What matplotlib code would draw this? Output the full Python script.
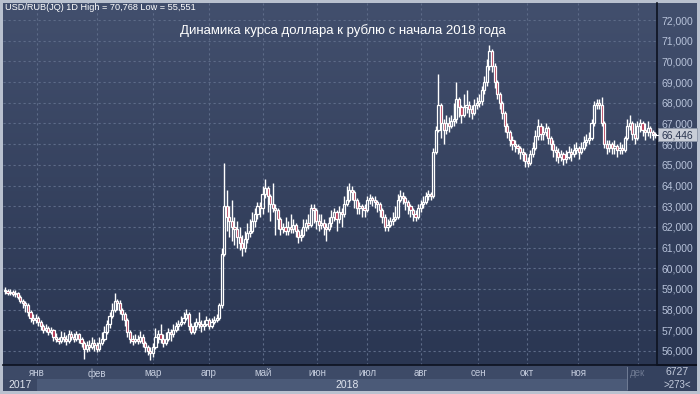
import matplotlib
matplotlib.use("Agg")
import matplotlib.pyplot as plt
from matplotlib.patches import Rectangle
import numpy as np

plt.rcParams['font.family'] = ['Liberation Sans', 'DejaVu Sans']

# Daily USD/RUB candles (index 0 = mid Dec 2017)
first_open = 58.95
closes = [
    58.9, 58.8, 58.85, 58.75, 58.8, 58.6, 58.4, 58.3, 58.2, 57.9,
    57.6, 57.5, 57.6, 57.4, 57.2, 57.0, 57.1, 56.9, 57.0, 56.7,
    56.6, 56.5, 56.7, 56.6, 56.5, 56.8, 56.7, 56.6, 56.8, 56.6,
    56.4, 56.1, 56.3, 56.2, 56.4, 56.3, 56.1, 56.4, 56.6, 56.9,
    57.3, 57.7, 58.0, 58.4, 58.3, 58.0, 57.8, 57.5, 56.9, 56.6,
    56.5, 56.6, 56.5, 56.7, 56.4, 56.2, 56.0, 55.9, 56.2, 56.7,
    56.8, 56.6, 56.4, 56.6, 56.9, 56.8, 57.0, 57.2, 57.3, 57.4,
    57.6, 57.8, 57.2, 56.9, 57.2, 57.4, 57.3, 57.2, 57.3, 57.5,
    57.2, 57.4, 57.5, 57.6, 58.2, 60.7, 63.0, 62.5, 62.3, 62.0,
    61.9, 61.5, 61.2, 61.0, 61.4, 61.7, 61.8, 62.3, 62.6, 63.0,
    62.9, 63.6, 63.9, 63.5, 63.1, 62.9, 62.8, 62.4, 61.9, 62.0,
    61.8, 62.0, 61.9, 62.1, 61.8, 61.5, 61.6, 62.0, 62.2, 62.1,
    62.9, 62.8, 62.3, 62.1, 62.2, 62.0, 61.9, 62.2, 62.5, 62.7,
    62.4, 62.7, 62.6, 63.1, 63.3, 63.8, 63.7, 63.3, 62.9, 63.0,
    62.9, 62.8, 63.3, 63.4, 63.3, 63.2, 63.1, 62.8, 62.5, 62.0,
    62.1, 62.3, 62.4, 62.5, 63.3, 63.5, 63.4, 63.2, 63.0, 62.8,
    62.6, 62.5, 62.9, 63.1, 63.2, 63.5, 63.6, 63.5, 65.6, 66.7,
    67.9, 67.0, 66.7, 67.0, 66.9, 67.1, 67.2, 68.2, 67.8, 67.4,
    67.8, 67.9, 67.7, 67.5, 67.9, 68.0, 68.1, 68.6, 69.0, 69.8,
    70.5, 69.8, 69.0, 68.4, 68.0, 67.5, 66.9, 66.6, 66.2, 66.0,
    65.9, 65.8, 65.6, 65.5, 65.2, 65.1, 65.5, 65.8, 66.4, 66.9,
    66.5, 66.6, 66.8, 66.3, 66.0, 65.7, 65.6, 65.4, 65.5, 65.3,
    65.4, 65.6, 65.5, 65.7, 65.8, 65.6, 65.8, 66.1, 66.2, 66.3,
    67.0, 67.9, 68.0, 67.9, 67.0, 66.0, 65.8, 66.0, 65.8, 65.9,
    65.7, 65.8, 65.7, 66.3, 66.9, 67.0, 66.5, 66.3, 66.9, 67.0,
    66.7, 66.6, 66.8, 66.6, 66.5, 66.446,
]
highs = [
    59.1, 59.0, 59.0, 58.95, 58.95, 58.85, 58.7, 58.5, 58.4, 58.3,
    58.0, 57.8, 57.8, 57.7, 57.5, 57.3, 57.3, 57.2, 57.15, 57.05,
    56.85, 56.7, 56.95, 56.9, 56.75, 57.0, 56.95, 56.85, 56.95, 56.85,
    56.7, 56.5, 56.5, 56.55, 56.7, 56.6, 56.45, 56.7, 56.9, 57.2,
    57.5, 57.9, 58.3, 58.8, 58.5, 58.45, 58.1, 57.9, 57.6, 57.0,
    56.75, 56.8, 56.75, 56.95, 56.8, 56.5, 56.3, 56.2, 56.4, 57.1,
    57.0, 57.3, 56.8, 56.9, 57.1, 57.05, 57.3, 57.4, 57.5, 57.7,
    57.9, 58.05, 57.9, 57.35, 57.4, 57.6, 57.9, 57.5, 57.5, 57.7,
    57.6, 57.6, 57.7, 57.8, 58.3, 61.0, 65.1, 63.8, 63.0, 63.3,
    62.5, 62.3, 62.0, 61.6, 61.8, 62.2, 62.4, 62.7, 62.9, 63.2,
    63.2, 64.0, 64.3, 64.0, 63.6, 64.1, 63.1, 62.9, 62.5, 62.2,
    62.5, 62.3, 62.6, 62.4, 62.2, 61.9, 61.9, 62.4, 62.4, 62.6,
    63.1, 63.1, 62.9, 62.6, 62.6, 62.4, 62.2, 62.5, 62.8, 62.9,
    62.8, 63.0, 62.9, 63.5, 64.0, 64.1, 64.0, 63.8, 63.4, 63.2,
    63.1, 63.1, 63.5, 63.6, 63.5, 63.5, 63.3, 63.2, 62.9, 62.6,
    62.4, 62.5, 62.7, 63.0, 63.6, 63.8, 63.7, 63.5, 63.3, 63.1,
    62.9, 62.8, 63.1, 63.3, 63.5, 63.7, 63.8, 63.7, 65.8, 66.9,
    69.4, 68.0, 67.2, 67.4, 67.3, 67.4, 68.0, 69.0, 68.3, 67.9,
    68.4, 68.6, 68.1, 67.9, 68.2, 68.3, 68.4, 68.8, 69.3, 70.1,
    70.768, 70.6, 69.9, 69.1, 68.5, 68.1, 67.6, 67.0, 66.7, 66.4,
    66.2, 66.0, 65.9, 65.8, 65.6, 65.4, 65.7, 66.1, 66.7, 67.2,
    67.0, 66.9, 67.0, 66.9, 66.4, 66.2, 65.9, 65.8, 65.7, 65.6,
    65.7, 65.9, 65.8, 66.0, 66.1, 65.9, 66.1, 66.4, 66.5, 66.6,
    67.2, 68.1, 68.2, 68.2, 68.3, 67.1, 66.2, 66.2, 66.1, 66.2,
    66.0, 66.1, 66.0, 66.4, 67.2, 67.4, 67.1, 67.0, 67.1, 67.2,
    67.1, 67.0, 67.1, 66.9, 66.7, 66.6,
]
lows = [
    58.75, 58.7, 58.7, 58.65, 58.6, 58.5, 58.3, 58.1, 57.9, 57.7,
    57.4, 57.3, 57.35, 57.2, 57.0, 56.85, 56.9, 56.75, 56.8, 56.5,
    56.45, 56.35, 56.4, 56.45, 56.3, 56.4, 56.55, 56.45, 56.5, 56.4,
    56.2, 55.6, 55.95, 56.0, 56.1, 56.0, 55.95, 56.0, 56.3, 56.5,
    56.8, 57.1, 57.6, 57.9, 58.0, 57.8, 57.5, 57.2, 56.7, 56.4,
    56.3, 56.4, 56.35, 56.4, 56.2, 55.95, 55.8, 55.551, 55.7, 56.1,
    56.4, 56.4, 56.2, 56.3, 56.5, 56.5, 56.7, 56.9, 57.0, 57.2,
    57.3, 57.5, 57.0, 56.8, 56.8, 57.0, 57.1, 56.9, 57.0, 57.2,
    57.05, 57.1, 57.3, 57.4, 57.5, 58.1, 60.6, 61.8, 61.5, 61.3,
    61.1, 61.0, 60.9, 60.6, 60.8, 61.2, 61.5, 61.7, 62.0, 62.4,
    62.5, 62.6, 63.4, 62.7, 62.3, 62.7, 61.6, 61.9, 61.6, 61.7,
    61.6, 61.6, 61.7, 61.7, 61.5, 61.2, 61.3, 61.5, 61.8, 61.9,
    62.0, 62.2, 61.9, 61.8, 61.9, 61.6, 61.3, 61.8, 62.0, 62.3,
    61.8, 62.2, 62.0, 62.5, 63.0, 63.2, 63.3, 62.9, 62.6, 62.6,
    62.5, 62.5, 62.7, 63.1, 63.0, 62.9, 62.7, 62.5, 62.2, 61.8,
    61.8, 62.0, 62.1, 62.3, 62.4, 63.2, 63.1, 62.8, 62.6, 62.5,
    62.3, 62.3, 62.4, 62.7, 62.9, 63.1, 63.3, 63.3, 63.4, 65.5,
    66.6, 66.3, 66.0, 66.5, 66.6, 66.8, 66.9, 67.0, 67.3, 67.0,
    67.3, 67.5, 67.3, 67.2, 67.4, 67.7, 67.8, 67.9, 68.4, 68.8,
    69.6, 69.5, 68.7, 68.2, 67.7, 67.2, 66.6, 66.3, 65.9, 65.7,
    65.6, 65.5, 65.3, 65.2, 64.9, 64.9, 65.0, 65.4, 65.7, 66.2,
    66.2, 66.2, 66.4, 66.0, 65.7, 65.4, 65.2, 65.1, 65.2, 65.0,
    65.1, 65.3, 65.2, 65.4, 65.5, 65.3, 65.5, 65.7, 65.9, 66.0,
    66.2, 66.9, 67.7, 67.7, 66.9, 65.8, 65.5, 65.6, 65.5, 65.5,
    65.4, 65.5, 65.5, 65.6, 66.2, 66.7, 66.2, 66.0, 66.2, 66.6,
    66.4, 66.2, 66.4, 66.3, 66.2, 66.3,
]
opens = [first_open] + closes[:-1]

month_labels = ['янв', 'фев', 'мар', 'апр', 'май', 'июн',
                'июл', 'авг', 'сен', 'окт', 'ноя', 'дек']
month_pos = [12.5, 36.1, 58.0, 80.0, 101.2, 122.4,
             142.0, 163.1, 185.5, 204.7, 224.7, 248.2]
y_ticks = list(range(56, 73))
last_price = 66.446

W, H = 700, 394
fig = plt.figure(figsize=(W / 100, H / 100), dpi=100)
fig.patch.set_facecolor('#b9c1cf')


def fx(px):
    return px / W


def fy(py):
    return 1 - py / H


def box(x0, y0, x1, y1, color, z=0):
    fig.add_artist(Rectangle((fx(x0), fy(y1)), fx(x1) - fx(x0), fy(y0) - fy(y1),
                             transform=fig.transFigure, facecolor=color,
                             edgecolor='none', zorder=z))


# gradient background for chart + price scale
bg = fig.add_axes([fx(3), fy(365), fx(697) - fx(3), fy(3) - fy(365)])
grad = np.linspace(0, 1, 256).reshape(-1, 1)
top_c = np.array([0x42, 0x4f, 0x6d]) / 255
bot_c = np.array([0x2a, 0x36, 0x52]) / 255
img = top_c[None, None, :] * (1 - grad[:, :, None]) + bot_c[None, None, :] * grad[:, :, None]
bg.imshow(img, aspect='auto', extent=[0, 1, 0, 1])
bg.set_axis_off()

# bottom time rows
box(3, 365, 697, 379, '#3d4a67')
box(3, 379, 697, 391, '#4b5a78')
box(3, 379, 37, 391, '#3b4865')
box(628, 365, 657, 391, '#34415e')
box(626.5, 367, 627.5, 390, '#6e7a93')
box(657, 365, 697, 391, '#34415e')

ax = fig.add_axes([fx(3), fy(365), fx(657) - fx(3), fy(3) - fy(365)])
ax.set_facecolor('none')
step = 2.55
ax.set_xlim((3 - 5) / step, (657 - 5) / step)
ppu = (351 - 20) / 16
ax.set_ylim(56 - (365 - 351) / ppu, 72 + (20 - 3) / ppu)

x = np.arange(len(closes))
for i in x:
    o, c, h, l = opens[i], closes[i], highs[i], lows[i]
    top, bot = max(o, c), min(o, c)
    ax.plot([i, i], [top, h], color='white', lw=1.0, zorder=3, solid_capstyle='butt')
    ax.plot([i, i], [l, bot], color='white', lw=1.0, zorder=3, solid_capstyle='butt')
    fill = '#b02a48' if c < o else 'none'
    ax.add_patch(Rectangle((i - 0.42, bot), 0.84, max(top - bot, 0.02),
                           facecolor=fill, edgecolor='white', lw=0.9, zorder=4))

ax.set_xticks(month_pos)
ax.set_xticklabels(month_labels)
ax.set_yticks(y_ticks)
ax.set_yticklabels([f"{v:.3f}".replace('.', ',') for v in y_ticks])
ax.yaxis.tick_right()
ax.tick_params(axis='y', length=0, pad=3, labelsize=7.5, labelcolor='#b8c3da')
ax.tick_params(axis='x', length=0, pad=2.5, labelsize=7, labelcolor='#c3cbdc')
ax.get_xticklabels()[-1].set_color('#6d7891')
ax.grid(True, color='#5d6b88', lw=0.8, linestyle=(0, (2, 2.5)))
ax.set_axisbelow(True)
for s in ['top', 'left']:
    ax.spines[s].set_visible(False)
ax.spines['right'].set_color('#0d1220')
ax.spines['right'].set_linewidth(1.2)
ax.spines['bottom'].set_color('#0d1220')
ax.spines['bottom'].set_linewidth(1.2)
box(657, 364.4, 697, 365.6, '#0d1220', z=5)

# last price marker
lp = fig.add_axes([0, 0, 1, 1], facecolor='none')
lp.set_axis_off()
lp.set_xlim(0, W)
lp.set_ylim(H, 0)
ly = 20 + (72 - last_price) * ppu
lp.add_patch(Rectangle((658, ly - 6.5), 39, 13, facecolor='#c9ced8',
                       edgecolor='#8d96a8', lw=0.6, zorder=6))
lp.text(677, ly + 0.5, f"{last_price:.3f}".replace('.', ','), ha='center', va='center',
        fontsize=7.5, color='#2a3550', zorder=7)
lp.plot([652, 658], [ly, ly], color='white', lw=0.8, zorder=6)

# texts
fig.text(fx(5), fy(7), 'USD/RUB(JQ) 1D High = 70,768 Low = 55,551', fontsize=6.6,
         color='white', ha='left', va='center')
fig.text(fx(343), fy(31), 'Динамика курса доллара к рублю с начала 2018 года',
         fontsize=9.5, color='white', ha='center', va='center')
fig.text(fx(20), fy(385), '2017', fontsize=7.5, color='#dfe4ee', ha='center', va='center')
fig.text(fx(347), fy(385), '2018', fontsize=7.5, color='#dfe4ee', ha='center', va='center')
fig.text(fx(677), fy(372), '6727', fontsize=7.5, color='#c3cbdc', ha='center', va='center')
box(664, 378.5, 691, 379.3, '#aab3c6', z=5)
fig.text(fx(677), fy(385.5), '>273<', fontsize=7, color='#c3cbdc', ha='center', va='center')

fig.savefig('out.png', dpi=100, facecolor=fig.get_facecolor())
